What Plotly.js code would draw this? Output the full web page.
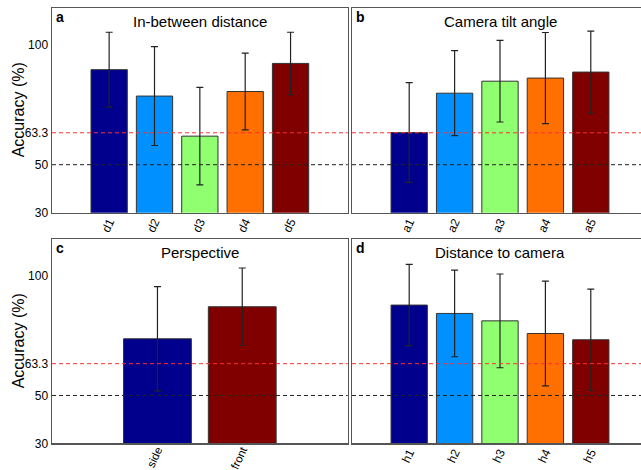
<!DOCTYPE html>
<html>
<head>
<meta charset="utf-8">
<script src="https://cdn.plot.ly/plotly-3.0.1.min.js"></script>
<style>html,body{margin:0;padding:0;background:#fff;}#chart{width:641px;height:470px;}</style>
</head>
<body>
<div id="chart"></div>
<script>
// ---- data ----
const catA = ["d1","d2","d3","d4","d5"];
const valA = [89.6, 78.6, 61.9, 80.5, 92.2];
const errA = [15.6, 20.6, 20.3, 16.0, 13.0];

const catB = ["a1","a2","a3","a4","a5"];
const valB = [63.4, 79.8, 84.8, 86.1, 88.6];
const errB = [20.8, 17.7, 17.0, 19.0, 17.1];

const catC = ["side","front"];
const valC = [73.7, 87.1];
const errC = [21.8, 16.2];

const catD = ["h1","h2","h3","h4","h5"];
const valD = [87.8, 84.3, 81.2, 75.9, 73.3];
const errD = [17.0, 18.1, 19.6, 21.9, 21.2];

const titles = ["In-between distance","Camera tilt angle","Perspective","Distance to camera"];
const letters = ["a","b","c","d"];
const yTitle = "Accuracy (%)";
const yTicks = [30, 50, 63.3, 100];
const chanceLevel = 50;
const thresholdLevel = 63.3;

const colors5 = ["#00008C","#0090FF","#90FF70","#FF7000","#800000"];
const colors2 = ["#00008C","#800000"];

function barTrace(cats, vals, errs, cols, xa, ya){
  return {
    type:"bar", x:cats, y:vals, xaxis:xa, yaxis:ya, width:0.8,
    marker:{color:cols, line:{color:"#333", width:1}},
    error_y:{type:"data", array:errs, visible:true, color:"#222", thickness:1.2, width:3.5},
    showlegend:false, hoverinfo:"skip"
  };
}

const data = [
  barTrace(catA, valA, errA, colors5, "x", "y"),
  barTrace(catB, valB, errB, colors5, "x2", "y2"),
  barTrace(catC, valC, errC, colors2, "x3", "y3"),
  barTrace(catD, valD, errD, colors5, "x4", "y4")
];

const W = 641, H = 470;
const leftDom = [52/W, 347.7/W];
const rightDom = [352/W, 1];
const topDom = [1-212.7/H, 1-8/H];
const botDom = [1-443.3/H, 1-239.3/H];
const yr = [30, 115.3];
const font = {family:"Liberation Sans, Arial, sans-serif", color:"#000"};

function xax(dom, anchor, range, standoff, fs){
  return {domain:dom, anchor:anchor, type:"category", range:range,
    showline:true, mirror:true, linecolor:"#555", linewidth:1.5,
    showgrid:false, zeroline:false, ticks:"", tickangle:-65, ticklabelstandoff:standoff,
    tickfont:{family:font.family, size:fs, color:"#000"}, fixedrange:true};
}
function yax(dom, anchor, showLabels, mirror){
  return {domain:dom, anchor:anchor, range:yr,
    showline:true, mirror:mirror, linecolor:"#555", linewidth:1.5,
    showgrid:false, zeroline:false, ticks:"",
    tickmode:"array", tickvals:yTicks, ticktext:yTicks.map(String),
    showticklabels:showLabels,
    tickfont:{family:font.family, size:12, color:"#000"},
    fixedrange:true};
}

const layout = {
  width:W, height:H, margin:{l:0,r:0,t:0,b:0},
  paper_bgcolor:"#fff", plot_bgcolor:"#fff", font:font, showlegend:false,
  bargap:0.2,
  xaxis: xax(leftDom, "y", [-1.26, 5.26], -4, 12),
  yaxis: yax(topDom, "x", true, true),
  xaxis2: xax(rightDom, "y2", [-1.26, 5.106], -4, 12),
  yaxis2: yax(topDom, "x2", false, false),
  xaxis3: xax(leftDom, "y3", [-1.244, 2.244], -6, 11.5),
  yaxis3: yax(botDom, "x3", true, true),
  xaxis4: xax(rightDom, "y4", [-1.26, 5.106], -4, 12),
  yaxis4: yax(botDom, "x4", false, false),
  shapes: [],
  annotations: []
};

const axesPairs = [["x","y"],["x2","y2"],["x3","y3"],["x4","y4"]];
const titleX = [2, 2, 0.5, 2];
axesPairs.forEach(function(p, i){
  layout.shapes.push({type:"line", xref:p[0]+" domain", yref:p[1], x0:0, x1:1, y0:thresholdLevel, y1:thresholdLevel,
    line:{color:"#ff3030", width:1, dash:"4px,3px"}, layer:"above"});
  layout.shapes.push({type:"line", xref:p[0]+" domain", yref:p[1], x0:0, x1:1, y0:chanceLevel, y1:chanceLevel,
    line:{color:"#222", width:1, dash:"4px,3px"}, layer:"above"});
  layout.annotations.push({xref:p[0], yref:p[1]+" domain", x:titleX[i], y:0.935, text:titles[i],
    showarrow:false, xanchor:"center", yanchor:"middle", font:{family:font.family, size:15, color:"#000"}});
  layout.annotations.push({xref:p[0]+" domain", yref:p[1]+" domain", x:0.006, y:0.955, text:"<b>"+letters[i]+"</b>",
    showarrow:false, xanchor:"left", yanchor:"middle", font:{family:font.family, size:14, color:"#000"}});
  if (i === 0 || i === 2) {
    layout.annotations.push({xref:"paper", yref:p[1]+" domain", x:18/W, y:0.5, text:yTitle, textangle:-90,
      showarrow:false, xanchor:"center", yanchor:"middle", font:{family:font.family, size:16, color:"#000"}});
  }
});

Plotly.newPlot("chart", data, layout, {displayModeBar:false, staticPlot:true});
</script>
</body>
</html>
